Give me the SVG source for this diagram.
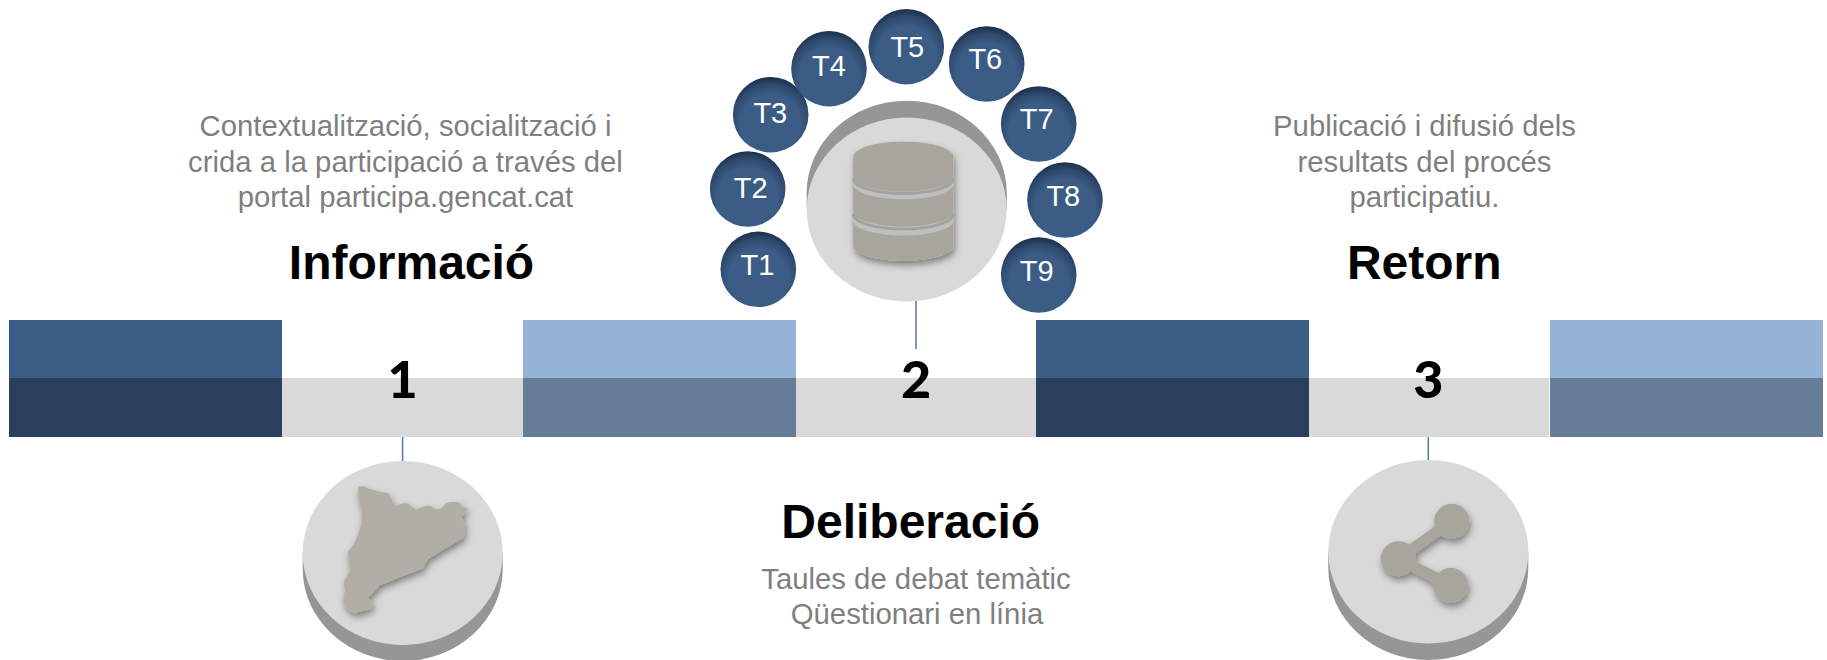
<svg xmlns="http://www.w3.org/2000/svg" width="1827" height="660" viewBox="0 0 1827 660">
<style>
.body{font-family:"Liberation Sans",Arial,sans-serif;font-size:29.3px;fill:#7f7f7f;text-anchor:middle}
.head{font-family:"Liberation Sans",Arial,sans-serif;font-size:48px;font-weight:700;fill:#000;text-anchor:middle}
.num{font-family:Lato,"Liberation Sans",sans-serif;font-size:52px;font-weight:900;fill:#000;text-anchor:middle}
.t{font-family:"Liberation Sans",Arial,sans-serif;font-size:29px;fill:#fff;text-anchor:middle}
.tc{fill:url(#tg)}
.disc{fill:#d9d9d9}
.rim{fill:#969696}
.ico{fill:#a8a59d}
.con{stroke:#5b7fa6;stroke-width:1.6;fill:none}
</style>
<defs>
<radialGradient id="tg" cx="50%" cy="62%" r="62%">
<stop offset="0.64" stop-color="#3b5c85"/><stop offset="0.85" stop-color="#2d486b"/><stop offset="1" stop-color="#1b2f49"/>
</radialGradient>
<filter id="sh" x="-30%" y="-30%" width="160%" height="170%"><feDropShadow dx="1.5" dy="4" stdDeviation="3.5" flood-color="#000" flood-opacity="0.42"/></filter>
</defs>
<rect width="1827" height="660" fill="#fff"/>
<g id="timeline">
<rect x="9" y="320" width="273" height="58" fill="#3b5c85"/><rect x="9" y="378" width="273" height="59" fill="#2a3f5c"/>
<rect x="282" y="378" width="241" height="59" fill="#d9d9d9"/>
<rect x="523" y="320" width="273" height="58" fill="#95b2d7"/><rect x="523" y="378" width="273" height="59" fill="#677c96"/>
<rect x="796" y="378" width="240" height="59" fill="#d9d9d9"/>
<rect x="1036" y="320" width="273" height="58" fill="#3b5c85"/><rect x="1036" y="378" width="273" height="59" fill="#2a3f5c"/>
<rect x="1309" y="378" width="240" height="59" fill="#d9d9d9"/>
<rect x="1550" y="320" width="273" height="58" fill="#95b2d7"/><rect x="1550" y="378" width="273" height="59" fill="#677c96"/>
</g>
<g id="connectors">
<line class="con" x1="402.6" y1="437" x2="402.6" y2="462"/>
<line class="con" x1="916" y1="301" x2="916" y2="349"/>
<line class="con" x1="1428.3" y1="437" x2="1428.3" y2="461"/>
</g>
<g id="step1">
<text class="num" x="402.6" y="397.5">1</text>
<text class="head" x="411.5" y="278.5">Informació</text>
<text class="body" x="405.5" y="135.5">Contextualització, socialització i</text>
<text class="body" x="405.5" y="171.5">crida a la participació a través del</text>
<text class="body" x="405.5" y="206.5">portal participa.gencat.cat</text>
</g>
<g id="step1-disc">
<path class="rim" d="M302.7,553V569A100,92 0 0 0 502.7,569V553Z"/>
<ellipse class="disc" cx="402.7" cy="553" rx="100" ry="92"/>
<path id="catalunya" fill="#b1aea6" filter="url(#sh)" d="M358.3,486.7L363,486L370,489L380,491.7L388.3,493.3L391.7,500L395,506L400,504L403.3,503.3L408,503.5L411.7,506.7L416.7,510L420,508L425,506L430,505.5L435,509L440,509.3L443,507L446,503L451,502L456.7,501.7L460,503L461.7,507L467,508L467.7,509.3L464,514L461.7,517.3L464,522L465,527L464,536.7L460,540L453,544L446,548L440,551.7L433,556L428,559L425,564L423,568.3L416,571L408,574L400,577L393.3,580L386,583L380,585L375,591L372,594L367.3,598.3L370,600L373.3,603L371,609L369.3,609.3L363,611L360,611.7L355,613.3L350,611L348.3,609.3L345,606L343.3,601.7L343.7,597L345,590L344,584L344,581.7L347,576L350,570L349,562L347.7,551.7L351,548L353.3,545L357.3,536.7L360,528L361.7,523.3L362,515L361.7,508.3L358.3,498.3Z"/>
</g>
<g id="step2">
<text class="num" x="916" y="397.5">2</text>
<text class="head" x="910.7" y="538">Deliberació</text>
<text class="body" x="916" y="589">Taules de debat temàtic</text>
<text class="body" x="917" y="624">Qüestionari en línia</text>
</g>
<g id="step2-disc">
<path class="rim" d="M806.7,192.8V209.5H1006.7V192.8Z"/><ellipse class="rim" cx="906.7" cy="192.8" rx="100" ry="92"/>
<ellipse class="disc" cx="906.7" cy="209.5" rx="100" ry="92"/>
<g id="database">
<path fill="#bfbfbd" filter="url(#sh)" d="M853.3,156.7A50,15 0 0 1 953.3,156.7V246A50,15 0 0 1 853.3,246Z"/>
<path fill="none" stroke="#a2a2a0" stroke-width="3" d="M853.3,178.5A50,15 0 0 0 953.3,178.5M853.3,214A50,15 0 0 0 953.3,214"/>
<path class="ico" d="M853.3,184.3V211.7A50,15 0 0 0 953.3,211.7V184.3A50,15 0 0 1 853.3,184.3Z"/>
<path class="ico" d="M853.3,220.7V246A50,15 0 0 0 953.3,246V220.7A50,15 0 0 1 853.3,220.7Z"/>
<path class="ico" d="M853.3,156.7V176.7A50,15 0 0 0 953.3,176.7V156.7A50,15 0 0 0 853.3,156.7Z"/>
</g>
</g>
<g id="step3">
<text class="num" x="1428.3" y="397.5">3</text>
<text class="head" x="1424.3" y="278.5">Retorn</text>
<text class="body" x="1424.5" y="135.5">Publicació i difusió dels</text>
<text class="body" x="1424.5" y="171.5">resultats del procés</text>
<text class="body" x="1424.5" y="206.5">participatiu.</text>
</g>
<g id="step3-disc">
<path class="rim" d="M1328.3,551.7V568A100,92 0 0 0 1528.3,568V551.7Z"/>
<ellipse class="disc" cx="1428.3" cy="551.7" rx="100" ry="91.7"/>
<g id="share" filter="url(#sh)">
<path d="M1451.7,521.3L1398.3,558.7L1450.7,585.3" fill="none" stroke="#a8a59d" stroke-width="11"/>
<circle class="ico" cx="1451.7" cy="521.3" r="17.5"/><circle class="ico" cx="1398.3" cy="558.7" r="17.5"/><circle class="ico" cx="1450.7" cy="585.3" r="17.5"/>
</g>
</g>
<g id="T1"><circle class="tc" cx="758.3" cy="269.3" r="37.8"/><text class="t" x="757.5" y="274.5">T1</text></g>
<g id="T2"><circle class="tc" cx="747.7" cy="189" r="37.8"/><text class="t" x="750.7" y="198.3">T2</text></g>
<g id="T3"><circle class="tc" cx="770.7" cy="114.7" r="37.8"/><text class="t" x="770.3" y="122.8">T3</text></g>
<g id="T4"><circle class="tc" cx="829" cy="68.7" r="37.8"/><text class="t" x="829" y="75.7">T4</text></g>
<g id="T5"><circle class="tc" cx="906.3" cy="46.7" r="37.8"/><text class="t" x="907.3" y="56.7">T5</text></g>
<g id="T6"><circle class="tc" cx="986.7" cy="64" r="37.8"/><text class="t" x="985.3" y="69.3">T6</text></g>
<g id="T7"><circle class="tc" cx="1038.7" cy="124" r="37.8"/><text class="t" x="1036.7" y="129.3">T7</text></g>
<g id="T8"><circle class="tc" cx="1065" cy="200" r="37.8"/><text class="t" x="1063.3" y="205.7">T8</text></g>
<g id="T9"><circle class="tc" cx="1038.7" cy="275" r="37.8"/><text class="t" x="1036.7" y="280.7">T9</text></g>
</svg>
